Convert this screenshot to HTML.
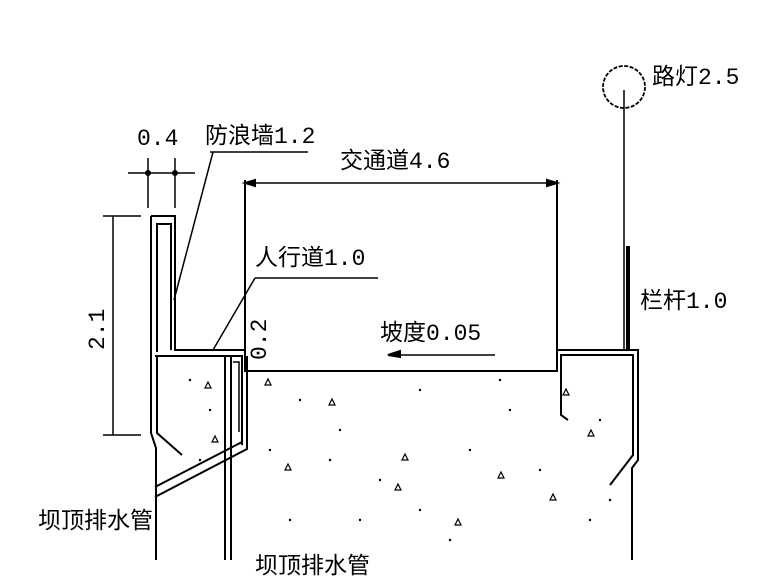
<!DOCTYPE html><html><head><style>body{margin:0;background:#fff}svg{display:block}text{font-family:"Liberation Mono","Noto Sans CJK SC",monospace;font-size:23px;fill:#000}</style></head><body>
<svg width="780" height="585" viewBox="0 0 780 585" fill="none" stroke="#000" stroke-width="2" style="position:absolute;left:0;top:0">
<path d="M151 216 H175 V350 H245"/>
<path d="M157 352 V224 H171 V350"/>
<path d="M151 216 V433 L156 448 V560"/>
<path d="M155 356 H242 V445"/>
<path d="M157 356 V433 L182 455"/>
<path d="M155 497 L247 449 V356 M155 487 L242 442"/>
<path d="M225 356 V560 M231 356 V560"/>
<path d="M233 362 H239 V432" stroke-width="1.5"/>
<path d="M245 180 V371 H557 V180"/>
<path d="M557 371 V350 H638 V460 L632 468 V560"/>
<path d="M561 371 V355 H633 V455 L610 485"/>
<path d="M561 371 V415 L568 420"/>
<circle cx="624" cy="87" r="21" stroke-dasharray="4 1.5" stroke-width="1.8"/>
<path d="M624 90 V350" stroke-width="1.5"/>
<path d="M628 246 V350" stroke-width="4"/>
<path d="M245 183 H557" stroke-width="1.5"/>
<path d="M245 183 l10 -3 v6z M557 183 l-10 -3 v6z" fill="#000"/>
<path d="M128 173 H195 M148 158 V208 M175 158 V208" stroke-width="1.5"/>
<circle cx="148" cy="173" r="2" fill="#000"/><circle cx="175" cy="173" r="2" fill="#000"/>
<path d="M113 216 V435 M103 216 H141 M103 435 H141" stroke-width="1.5"/>
<path d="M210 152 H308 M213 152 L174 300" stroke-width="1.5"/>
<path d="M255 278 H378 M255 278 L213 350" stroke-width="1.5"/>
<path d="M390 355 H495" stroke-width="1.5"/>
<path d="M388 355 l12 -4 v6z" fill="#000"/>
<g fill="#000" stroke="none">
<circle cx="300" cy="400" r="1.2"/><circle cx="340" cy="430" r="1.2"/><circle cx="420" cy="390" r="1.2"/><circle cx="470" cy="450" r="1.2"/><circle cx="510" cy="410" r="1.2"/><circle cx="380" cy="480" r="1.2"/><circle cx="290" cy="520" r="1.2"/><circle cx="540" cy="470" r="1.2"/><circle cx="600" cy="420" r="1.2"/><circle cx="590" cy="520" r="1.2"/><circle cx="450" cy="540" r="1.2"/><circle cx="360" cy="520" r="1.2"/><circle cx="190" cy="380" r="1.2"/><circle cx="200" cy="460" r="1.2"/><circle cx="210" cy="410" r="1.2"/><circle cx="270" cy="450" r="1.2"/><circle cx="330" cy="460" r="1.2"/><circle cx="500" cy="380" r="1.2"/><circle cx="610" cy="500" r="1.2"/><circle cx="420" cy="510" r="1.2"/>
</g>
<g stroke-width="1.2">
<path d="M265 385 l3 -6 l3 6z M329 405 l3 -6 l3 6z M402 460 l3 -6 l3 6z M285 470 l3 -6 l3 6z M550 500 l3 -6 l3 6z M498 478 l3 -6 l3 6z M563 395 l3 -6 l3 6z M588 436 l3 -6 l3 6z M205 388 l3 -6 l3 6z M212 442 l3 -6 l3 6z M455 525 l3 -6 l3 6z M395 490 l3 -6 l3 6z"/>
</g>
<g stroke="none">
<text x="137" y="145">0.4</text>
<text x="205" y="143">防浪墙1.2</text>
<text x="340" y="168">交通道4.6</text>
<text x="255" y="265">人行道1.0</text>
<text x="380" y="340">坡度0.05</text>
<text x="640" y="308">栏杆1.0</text>
<text x="652" y="84">路灯2.5</text>
<text x="38" y="528">坝顶排水管</text>
<text x="255" y="573">坝顶排水管</text>
<text transform="translate(104,350) rotate(-90)">2.1</text>
<text transform="translate(266,360) rotate(-90)">0.2</text>
</g>
</svg>
</body></html>
